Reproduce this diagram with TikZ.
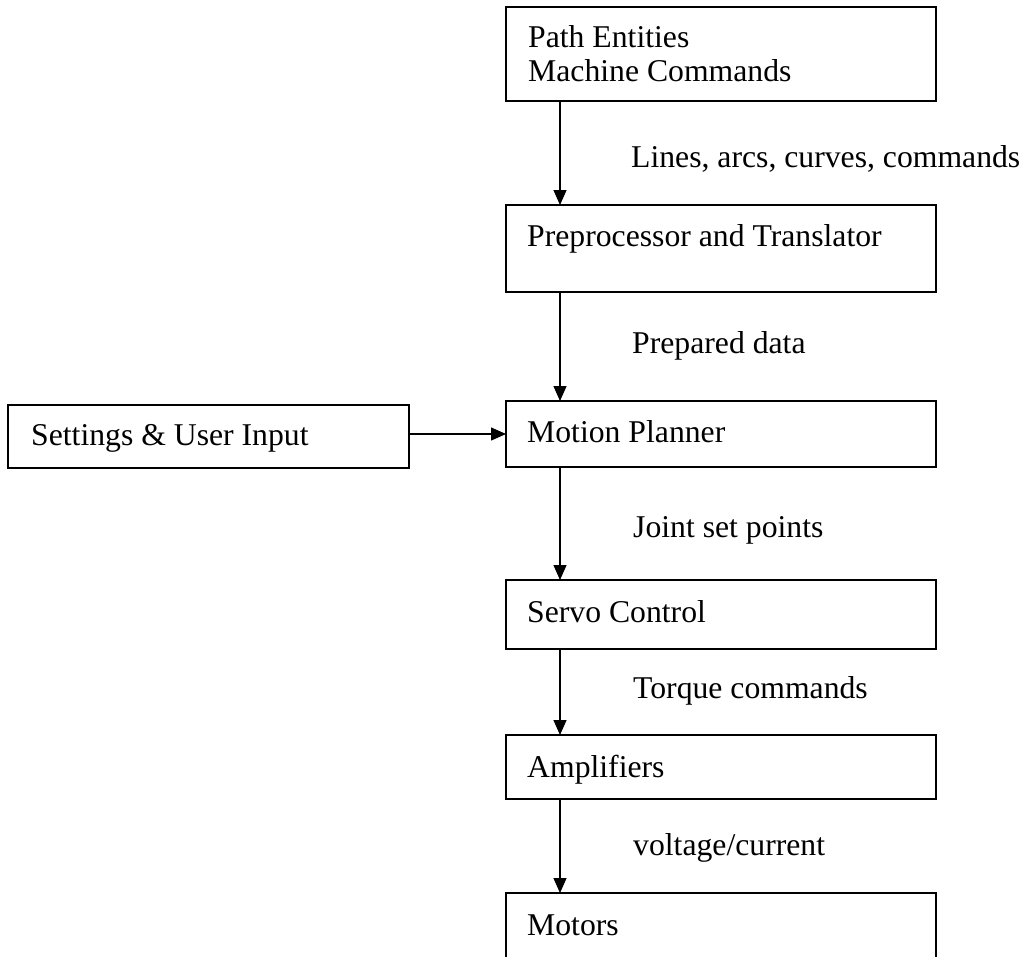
\documentclass[tikz,border=0pt]{standalone}
\usepackage{fontspec}
\setmainfont{Liberation Serif}
\usetikzlibrary{arrows.meta,calc}

\tikzset{
  stage/.style={draw=black, line width=1.3pt, rectangle, inner sep=0pt, outer sep=0pt},
  txt/.style={inner sep=0pt, anchor=base west, font=\fontsize{31.7}{34}\selectfont},
  flow/.style={line width=1.3pt, -{Triangle[width=13pt,length=15pt]}}
}

% box given by its corners (x1,y1) and (x2,y2), y growing downwards
\newcommand{\stagebox}[5]{%
  \node[stage, minimum width={#4-#2}, minimum height={#5-#3}] (#1) at ({(#2+#4)/2},{(#3+#5)/2}) {};}

\begin{document}
\begin{tikzpicture}[x=1pt, y=-1pt]
  \clip (0,0) rectangle (1028,956);
  \fill[white] (0,0) rectangle (1028,956);

  % processing chain
  \stagebox{top}{506}{7}{936}{101}
  \stagebox{pre}{506}{205}{936}{292}
  \stagebox{mp}{506}{401}{936}{467}
  \stagebox{set}{8}{405}{409}{468}
  \stagebox{servo}{506}{580}{936}{649}
  \stagebox{amp}{506}{735}{936}{799}
  \stagebox{mot}{506}{893}{936}{1010}

  % box texts
  \node[txt] (tTopA) at (528,47) {Path Entities};
  \node[txt] (tTopB) at (528,81) {Machine Commands};
  \node[txt] (tPre)  at (527,246) {Preprocessor and Translator};
  \node[txt] (tMp)   at (527,442) {Motion Planner};
  \node[txt] (tSet)  at (31,445) {Settings \& User Input};
  \node[txt] (tServo) at (527,622) {Servo Control};
  \node[txt] (tAmp)  at (527,777) {Amplifiers};
  \node[txt] (tMot)  at (527,935) {Motors};

  % connectors
  \draw[flow] ([xshift=54pt]top.south west) -- ([xshift=54pt]pre.north west);
  \draw[flow] ([xshift=54pt]pre.south west) -- ([xshift=54pt]mp.north west);
  \draw[flow] ([xshift=54pt]mp.south west) -- ([xshift=54pt]servo.north west);
  \draw[flow] ([xshift=54pt]servo.south west) -- ([xshift=54pt]amp.north west);
  \draw[flow] ([xshift=54pt]amp.south west) -- ([xshift=54pt]mot.north west);
  \draw[flow] (set.east |- mp.west) -- (mp.west);

  % connector labels
  \node[txt] (lA) at (631,167) {Lines, arcs, curves, commands};
  \node[txt] (lB) at (632,353) {Prepared data};
  \node[txt] (lC) at (633,537) {Joint set points};
  \node[txt] (lD) at (633,698) {Torque commands};
  \node[txt] (lE) at (633,855) {voltage/current};
\end{tikzpicture}
\end{document}
